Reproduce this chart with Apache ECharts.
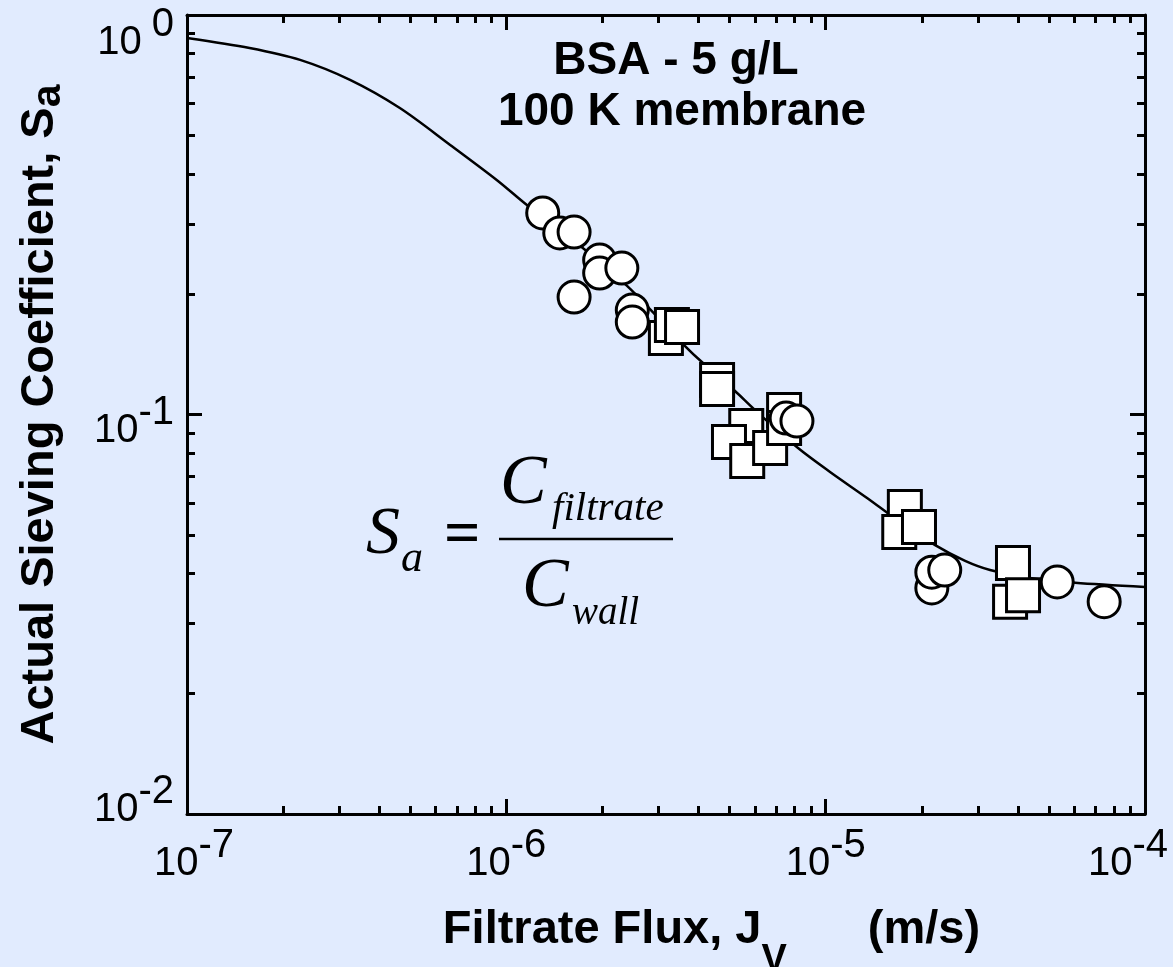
<!DOCTYPE html>
<html>
<head>
<meta charset="utf-8">
<script src="https://cdn.jsdelivr.net/npm/echarts@6/dist/echarts.min.js"></script>
<style>
  html, body { margin: 0; padding: 0; background: #E1EBFE; }
  #chart { width: 1173px; height: 967px; }
</style>
</head>
<body>
<div id="chart"></div>
<script>
// BSA (5 g/L) on a 100 K membrane: actual sieving coefficient vs filtrate flux (m/s)
const circleFlux    = [1.30e-6, 1.47e-6, 1.63e-6, 1.96e-6, 1.96e-6, 2.30e-6, 1.63e-6, 2.48e-6, 2.48e-6, 7.52e-6, 8.13e-6, 2.15e-5, 2.15e-5, 2.36e-5, 5.31e-5, 7.45e-5];
const circleSieving = [0.3195, 0.2847, 0.2862, 0.2435, 0.2260, 0.2326, 0.1968, 0.1826, 0.1704, 0.0980, 0.0963, 0.0368, 0.0403, 0.0408, 0.0381, 0.0340];

const squareFlux    = [3.16e-6, 3.30e-6, 3.55e-6, 4.57e-6, 4.57e-6, 5.64e-6, 4.98e-6, 5.68e-6, 6.70e-6, 7.41e-6, 7.41e-6, 1.77e-5, 1.70e-5, 1.96e-5, 3.86e-5, 3.78e-5, 4.15e-5];
const squareSieving = [0.1554, 0.1675, 0.1656, 0.1220, 0.1158, 0.0936, 0.0853, 0.0765, 0.0824, 0.1026, 0.0925, 0.0587, 0.0508, 0.0523, 0.0425, 0.0340, 0.0353];

// model curve
const modelFlux    = [1.0e-7, 1.57e-7, 2.26e-7, 3.24e-7, 4.64e-7, 6.67e-7, 9.35e-7, 1.16e-6, 1.473e-6, 1.965e-6, 2.388e-6, 2.778e-6, 3.628e-6, 4.096e-6, 5.202e-6, 6.009e-6, 8.195e-6, 1.032e-5, 1.348e-5, 1.710e-5, 2.202e-5, 2.733e-5, 3.272e-5, 4.366e-5, 6.04e-5, 1.0e-4];
const modelSieving = [0.876, 0.827, 0.772, 0.688, 0.585, 0.473, 0.386, 0.3345, 0.2896, 0.2407, 0.2098, 0.1858, 0.1484, 0.1353, 0.1145, 0.1026, 0.0824, 0.0718, 0.0618, 0.0538, 0.0471, 0.0430, 0.0408, 0.0390, 0.0379, 0.0370];

// axis ticks
const xTickValues = [1e-7, 1e-6, 1e-5, 1e-4];
const yTickValues = [1e-2, 1e-1, 1];

const FONT = '"Liberation Sans", Arial, Helvetica, sans-serif';
const SERIF = '"Liberation Serif", "Times New Roman", serif';

function minorTicks(majors) {
  const out = [];
  for (let i = 0; i < majors.length - 1; i++) {
    for (let k = 2; k <= 9; k++) out.push(k * majors[i]);
  }
  return out;
}
const xMinor = minorTicks(xTickValues);
const yMinor = minorTicks(yTickValues);

const pairs = (xs, ys) => xs.map((x, i) => [x, ys[i]]);

const supRaise = 36;
const baseTick = { fontFamily: FONT, fontSize: 40, color: '#000', verticalAlign: 'middle' };
const xRich = {
  b:  Object.assign({}, baseTick),
  s:  Object.assign({}, baseTick, { padding: [0, 0, supRaise, 0] }),
  bl: Object.assign({}, baseTick, { padding: [0, 0, 0, 14] }),
  sr: Object.assign({}, baseTick, { padding: [0, 34, supRaise, 0] })
};
const yRich = {
  b0: Object.assign({}, baseTick, { padding: [56, 0, 0, 0] }),
  s0: Object.assign({}, baseTick, { padding: [56, 0, supRaise, 10] }),
  b1: Object.assign({}, baseTick, { padding: [32, 0, 0, 0] }),
  s1: Object.assign({}, baseTick, { padding: [32, 0, supRaise, 0] }),
  b2: Object.assign({}, baseTick, { padding: [0, 0, 8, 0] }),
  s2: Object.assign({}, baseTick, { padding: [0, 0, supRaise + 8, 0] })
};

const exp10 = v => Math.round(Math.log10(v));

const lineStyle = { color: '#000', width: 3 };

function xAxisDef(pos, major, withLabel) {
  return {
    type: 'log', logBase: 10, min: 1e-7, max: 1e-4, position: pos,
    axisLine: { show: major, onZero: false, lineStyle: lineStyle },
    axisTick: { show: true, inside: true, length: major ? 15 : 8,
      customValues: major ? xTickValues : xMinor,
      lineStyle: { color: '#000', width: 3 } },
    minorTick: { show: false },
    splitLine: { show: false },
    axisLabel: withLabel ? {
      show: true, customValues: xTickValues, margin: 12,
      formatter: v => {
        const e = exp10(v);
        const b = e === -7 ? 'bl' : 'b';
        const s = e === -4 ? 'sr' : 's';
        return '{' + b + '|10}{' + s + '|' + e + '}';
      },
      rich: xRich
    } : { show: false }
  };
}

function yAxisDef(pos, major, withLabel) {
  return {
    type: 'log', logBase: 10, min: 1e-2, max: 1, position: pos,
    axisLine: { show: major, onZero: false, lineStyle: lineStyle },
    axisTick: { show: true, inside: true, length: major ? 15 : 8,
      customValues: major ? yTickValues : yMinor,
      lineStyle: { color: '#000', width: 3 } },
    minorTick: { show: false },
    splitLine: { show: false },
    axisLabel: withLabel ? {
      show: true, customValues: yTickValues, margin: 13,
      formatter: v => {
        const e = exp10(v);
        const k = -e;
        return '{b' + k + '|10}{s' + k + '|' + e + '}';
      },
      rich: yRich
    } : { show: false }
  };
}

const xMain = xAxisDef('bottom', true, true);
xMain.name = 'Filtrate Flux, J{sub|V}{unit|(m/s)}';
xMain.nameLocation = 'middle';
xMain.nameGap = 66;
xMain.nameTextStyle = {
  fontFamily: FONT, fontSize: 47, fontWeight: 'bold', color: '#000',
  padding: [0, 0, 0, 91],
  rich: {
    sub: { fontFamily: FONT, fontSize: 38, fontWeight: 'bold', color: '#000', verticalAlign: 'middle', padding: [62, 0, 0, 0] },
    unit: { fontFamily: FONT, fontSize: 47, fontWeight: 'bold', color: '#000', verticalAlign: 'middle', padding: [0, 0, 0, 81] }
  }
};

const yMain = yAxisDef('left', true, true);
yMain.name = 'Actual Sieving Coefficient, S{sub|a}';
yMain.nameLocation = 'middle';
yMain.nameRotate = 90;
yMain.nameGap = 118;
yMain.nameTextStyle = {
  fontFamily: FONT, fontSize: 47, fontWeight: 'bold', color: '#000',
  rich: {
    sub: { fontFamily: FONT, fontSize: 41, fontWeight: 'bold', color: '#000', verticalAlign: 'middle', padding: [16, 0, 0, 0] }
  }
};

const chart = echarts.init(document.getElementById('chart'), null, { renderer: 'canvas' });

const markerStyle = { color: '#fff', borderColor: '#000', borderWidth: 3, opacity: 1 };

chart.setOption({
  backgroundColor: '#E1EBFE',
  animation: false,
  grid: { left: 187, right: 28, top: 15, bottom: 153, containLabel: false, outerBoundsMode: 'none' },
  xAxis: [
    xMain,
    xAxisDef('bottom', false, false),
    xAxisDef('top', true, false),
    xAxisDef('top', false, false)
  ],
  yAxis: [
    yMain,
    yAxisDef('left', false, false),
    yAxisDef('right', true, false),
    yAxisDef('right', false, false)
  ],
  series: [
    {
      type: 'line', name: 'model', silent: true, z: 1,
      data: pairs(modelFlux, modelSieving),
      showSymbol: false, symbol: 'none', smooth: 0.3,
      lineStyle: { color: '#000', width: 2.5 }
    },
    {
      type: 'scatter', name: 'squares', silent: true, z: 2,
      data: pairs(squareFlux, squareSieving),
      symbol: 'rect', symbolSize: 33, itemStyle: markerStyle
    },
    {
      type: 'scatter', name: 'circles', silent: true, z: 3,
      data: pairs(circleFlux, circleSieving),
      symbol: 'circle', symbolSize: 32, itemStyle: markerStyle
    }
  ],
  graphic: [
    { type: 'text', x: 676, y: 61, z: 10, style: { text: 'BSA - 5 g/L', font: 'bold 46px ' + FONT, fill: '#000', align: 'center', verticalAlign: 'middle' } },
    { type: 'text', x: 682, y: 112, z: 10, style: { text: '100 K membrane', font: 'bold 46px ' + FONT, fill: '#000', align: 'center', verticalAlign: 'middle' } },
    // S_a = C_filtrate / C_wall
    { type: 'text', x: 366, y: 535, z: 10, style: { text: 'S', font: 'italic 68px ' + SERIF, fill: '#000', align: 'left', verticalAlign: 'middle' } },
    { type: 'text', x: 401, y: 559, z: 10, style: { text: 'a', font: 'italic 44px ' + SERIF, fill: '#000', align: 'left', verticalAlign: 'middle' } },
    { type: 'text', x: 444, y: 537, z: 10, style: { text: '=', font: 'bold 64px ' + SERIF, fill: '#000', align: 'left', verticalAlign: 'middle' } },
    { type: 'line', z: 10, shape: { x1: 499, y1: 539, x2: 673, y2: 539 }, style: { stroke: '#000', lineWidth: 2.5 } },
    { type: 'text', x: 500, y: 485, z: 10, style: { text: 'C', font: 'italic 70px ' + SERIF, fill: '#000', align: 'left', verticalAlign: 'middle' } },
    { type: 'text', x: 552, y: 509, z: 10, style: { text: 'filtrate', font: 'italic 41px ' + SERIF, fill: '#000', align: 'left', verticalAlign: 'middle' } },
    { type: 'text', x: 522, y: 588, z: 10, style: { text: 'C', font: 'italic 70px ' + SERIF, fill: '#000', align: 'left', verticalAlign: 'middle' } },
    { type: 'text', x: 572, y: 614, z: 10, style: { text: 'wall', font: 'italic 39px ' + SERIF, fill: '#000', align: 'left', verticalAlign: 'middle' } }
  ]
});
</script>
</body>
</html>
